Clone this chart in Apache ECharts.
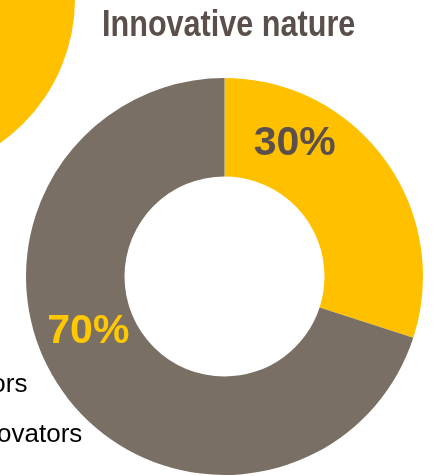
<!DOCTYPE html>
<html>
<head>
<meta charset="utf-8">
<title>Innovative nature</title>
<script src="https://cdn.jsdelivr.net/npm/echarts@6/dist/echarts.min.js"></script>
<style>
  html, body { margin: 0; padding: 0; background: #ffffff; }
  #chart { width: 439px; height: 476px; }
</style>
</head>
<body>
<div id="chart"></div>
<script>
// Share of firms by innovative nature (percent)
const titleText = 'Innovative nature';
const categories = ['Innovators', 'Non-innovators'];
const shares = [30, 70];
const sliceColors = ['#FFC000', '#7A6F65'];
const labelColors = ['#5B4F4B', '#FFC800'];

// Shift each percentage label away from the slice mid-point
const labelShift = [
  { dx: -53, dy: -43 },
  { dx: -13, dy: -34 }
];

const chart = echarts.init(document.getElementById('chart'), null, { renderer: 'canvas' });

chart.setOption({
  animation: false,
  backgroundColor: '#ffffff',
  legend: {
    orient: 'vertical',
    left: -129,
    top: 367,
    itemWidth: 25,
    itemHeight: 26,
    itemGap: 24,
    icon: 'rect',
    selectedMode: false,
    textStyle: {
      fontFamily: '"Liberation Sans", Arial, sans-serif',
      fontSize: 26,
      color: '#000000'
    },
    data: categories
  },
  graphic: [
    {
      // decorative disc from the neighbouring panel
      type: 'circle',
      silent: true,
      z: -1,
      shape: { cx: -101, cy: -1, r: 176 },
      style: { fill: '#FFC000' }
    },
    {
      // condensed heading: bold sans squeezed horizontally
      type: 'text',
      silent: true,
      x: 102,
      y: 8,
      scaleX: 0.85,
      style: {
        text: titleText,
        fontFamily: '"Liberation Sans", Arial, sans-serif',
        fontWeight: 'bold',
        fontSize: 36,
        fill: '#5B4F4B',
        align: 'left',
        verticalAlign: 'top'
      }
    }
  ],
  series: [
    {
      type: 'pie',
      center: [224.5, 276.5],
      radius: [100, 198.5],
      startAngle: 90,
      clockwise: true,
      silent: true,
      avoidLabelOverlap: false,
      itemStyle: { borderWidth: 0 },
      emphasis: { disabled: true },
      label: {
        show: true,
        position: 'inside',
        formatter: '{c}%',
        fontFamily: '"Liberation Sans", Arial, sans-serif',
        fontWeight: 'bold',
        fontSize: 41
      },
      labelLine: { show: false },
      labelLayout: function (params) {
        return labelShift[params.dataIndex];
      },
      data: categories.map(function (name, i) {
        return {
          name: name,
          value: shares[i],
          itemStyle: { color: sliceColors[i] },
          label: { color: labelColors[i] }
        };
      })
    }
  ]
});
</script>
</body>
</html>
